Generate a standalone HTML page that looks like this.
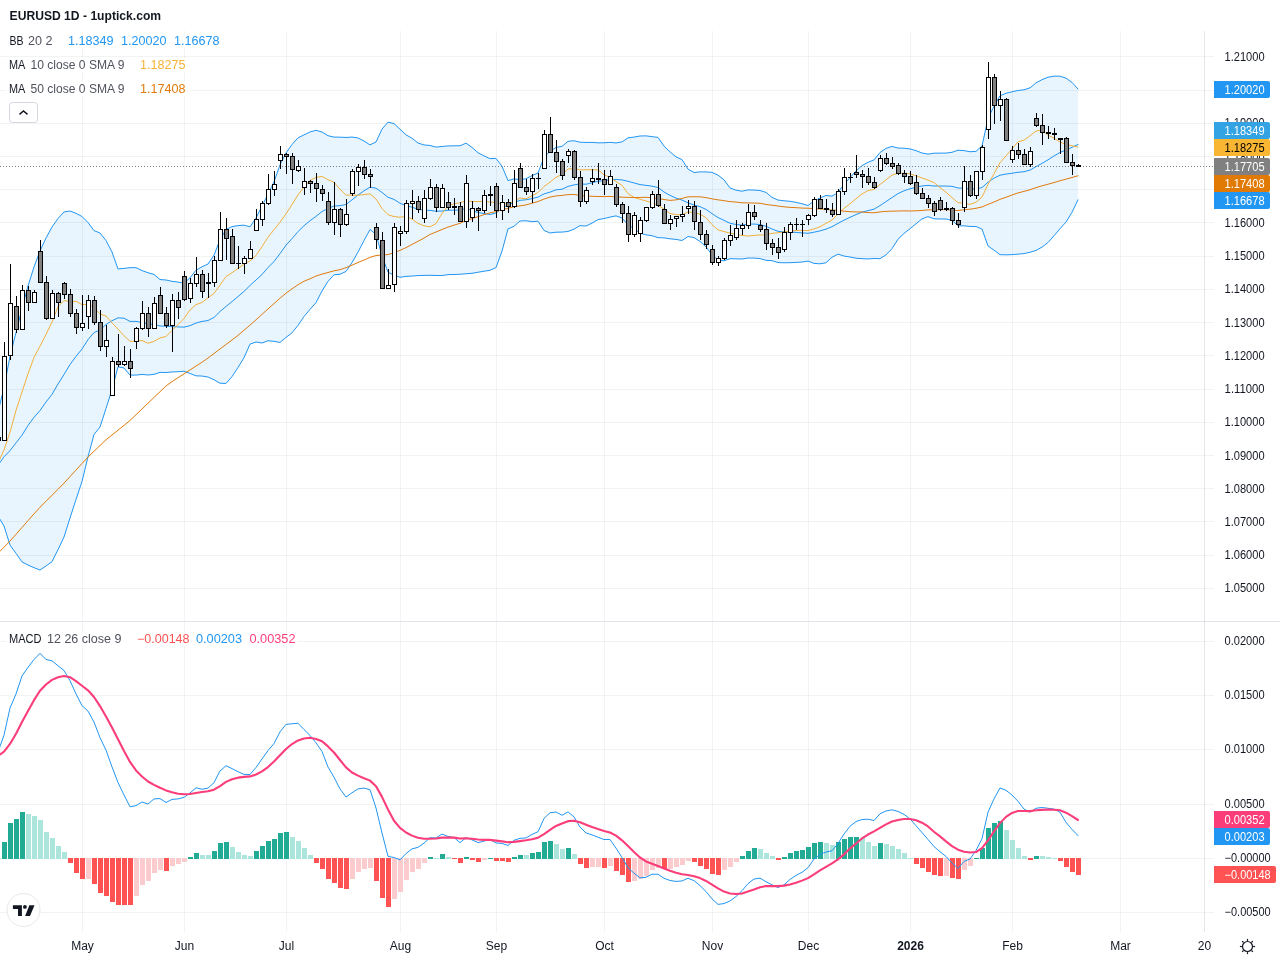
<!DOCTYPE html>
<html lang="en"><head><meta charset="utf-8"><title>EURUSD 1D - 1uptick.com</title>
<style>
html,body{margin:0;padding:0;background:#fff;}
body{width:1280px;height:960px;overflow:hidden;font-family:"Liberation Sans",sans-serif;}
svg{display:block;will-change:transform}
text{font-family:"Liberation Sans",sans-serif;font-size:12px;fill:#131722}
.g{stroke:#2a2e39;stroke-opacity:.06;stroke-width:1;shape-rendering:crispEdges}
.c{shape-rendering:crispEdges}
.ln{fill:none;stroke-linejoin:round;stroke-linecap:round}
</style></head><body>
<svg width="1280" height="960" viewBox="0 0 1280 960">
<rect width="1280" height="960" fill="#fff"/>

<g class="g">
<line x1="0" y1="588.5" x2="1214" y2="588.5"/>
<line x1="0" y1="555.5" x2="1214" y2="555.5"/>
<line x1="0" y1="521.5" x2="1214" y2="521.5"/>
<line x1="0" y1="488.5" x2="1214" y2="488.5"/>
<line x1="0" y1="455.5" x2="1214" y2="455.5"/>
<line x1="0" y1="422.5" x2="1214" y2="422.5"/>
<line x1="0" y1="389.5" x2="1214" y2="389.5"/>
<line x1="0" y1="355.5" x2="1214" y2="355.5"/>
<line x1="0" y1="322.5" x2="1214" y2="322.5"/>
<line x1="0" y1="289.5" x2="1214" y2="289.5"/>
<line x1="0" y1="256.5" x2="1214" y2="256.5"/>
<line x1="0" y1="222.5" x2="1214" y2="222.5"/>
<line x1="0" y1="189.5" x2="1214" y2="189.5"/>
<line x1="0" y1="156.5" x2="1214" y2="156.5"/>
<line x1="0" y1="123.5" x2="1214" y2="123.5"/>
<line x1="0" y1="90.5" x2="1214" y2="90.5"/>
<line x1="0" y1="56.5" x2="1214" y2="56.5"/>
<line x1="0" y1="641.5" x2="1214" y2="641.5"/>
<line x1="0" y1="695.5" x2="1214" y2="695.5"/>
<line x1="0" y1="749.5" x2="1214" y2="749.5"/>
<line x1="0" y1="804.5" x2="1214" y2="804.5"/>
<line x1="0" y1="858.5" x2="1214" y2="858.5"/>
<line x1="0" y1="912.5" x2="1214" y2="912.5"/>
<line x1="82.5" y1="31" x2="82.5" y2="932"/>
<line x1="184.5" y1="31" x2="184.5" y2="932"/>
<line x1="286.5" y1="31" x2="286.5" y2="932"/>
<line x1="400.5" y1="31" x2="400.5" y2="932"/>
<line x1="496.5" y1="31" x2="496.5" y2="932"/>
<line x1="604.5" y1="31" x2="604.5" y2="932"/>
<line x1="712.5" y1="31" x2="712.5" y2="932"/>
<line x1="808.5" y1="31" x2="808.5" y2="932"/>
<line x1="910.5" y1="31" x2="910.5" y2="932"/>
<line x1="1012.5" y1="31" x2="1012.5" y2="932"/>
<line x1="1120.5" y1="31" x2="1120.5" y2="932"/>
<line x1="1204.5" y1="31" x2="1204.5" y2="932"/>
</g>
<line x1="0" y1="621.5" x2="1280" y2="621.5" stroke="#e0e3eb" stroke-width="1" class="c"/>
<polygon points="-2.0,412 4.0,387.50 10.0,356.30 16.0,332.50 22.0,308.50 28.0,286.00 34.0,267.00 40.0,251.00 46.0,238.00 52.0,227.00 58.0,218.50 64.0,212.00 70.0,211.00 76.0,213.30 82.0,216.50 88.0,222.50 94.0,230.60 100.0,233.00 106.0,240.50 112.0,252.00 118.0,268.98 124.0,268.35 130.0,267.67 136.0,267.65 142.0,270.58 148.0,272.74 154.0,274.43 160.0,279.55 166.0,280.00 172.0,281.33 178.0,282.07 184.0,283.04 190.0,277.85 196.0,270.21 202.0,266.80 208.0,264.04 214.0,255.11 220.0,239.86 226.0,229.47 232.0,226.60 238.0,225.62 244.0,225.18 250.0,226.84 256.0,218.05 262.0,206.03 268.0,194.30 274.0,181.83 280.0,164.82 286.0,152.95 292.0,144.49 298.0,137.87 304.0,134.89 310.0,132.01 316.0,130.27 322.0,132.01 328.0,135.71 334.0,137.10 340.0,137.15 346.0,137.47 352.0,137.06 358.0,137.96 364.0,141.06 370.0,144.86 376.0,142.01 382.0,129.08 388.0,122.23 394.0,123.55 400.0,129.19 406.0,134.84 412.0,138.27 418.0,143.03 424.0,144.93 430.0,145.47 436.0,147.12 442.0,146.49 448.0,145.92 454.0,145.81 460.0,145.78 466.0,143.18 472.0,147.36 478.0,152.74 484.0,155.82 490.0,158.68 496.0,158.39 502.0,166.27 508.0,180.61 514.0,178.87 520.0,179.70 526.0,178.75 532.0,175.59 538.0,172.97 544.0,157.32 550.0,151.31 556.0,147.44 562.0,146.34 568.0,141.33 574.0,140.71 580.0,142.20 586.0,142.47 592.0,142.38 598.0,142.83 604.0,142.77 610.0,142.34 616.0,142.94 622.0,141.89 628.0,137.89 634.0,137.09 640.0,135.99 646.0,135.87 652.0,136.65 658.0,137.45 664.0,146.08 670.0,151.88 676.0,156.80 682.0,159.61 688.0,169.12 694.0,172.53 700.0,171.89 706.0,171.92 712.0,172.37 718.0,175.14 724.0,179.84 730.0,187.90 736.0,190.20 742.0,191.21 748.0,189.91 754.0,190.05 760.0,190.50 766.0,192.39 772.0,197.40 778.0,200.08 784.0,200.76 790.0,201.31 796.0,202.35 802.0,203.74 808.0,205.54 814.0,200.98 820.0,197.98 826.0,195.46 832.0,196.15 838.0,192.57 844.0,184.37 850.0,177.58 856.0,170.96 862.0,165.64 868.0,162.32 874.0,159.87 880.0,152.53 886.0,148.34 892.0,146.45 898.0,148.02 904.0,148.23 910.0,148.90 916.0,150.67 922.0,153.02 928.0,154.12 934.0,153.19 940.0,153.11 946.0,153.09 952.0,152.30 958.0,150.20 964.0,150.58 970.0,151.72 976.0,151.36 982.0,146.01 988.0,118.58 994.0,106.16 1000.0,95.74 1006.0,93.27 1012.0,91.84 1018.0,90.46 1024.0,89.79 1030.0,87.87 1036.0,82.94 1042.0,79.65 1048.0,77.22 1054.0,76.16 1060.0,76.16 1066.0,78.15 1072.0,82.42 1078.0,89.02 1078.0,199.85 1072.0,212.28 1066.0,222.02 1060.0,228.70 1054.0,235.76 1048.0,242.51 1042.0,247.11 1036.0,250.41 1030.0,252.28 1024.0,253.60 1018.0,254.15 1012.0,254.67 1006.0,254.85 1000.0,254.67 994.0,250.15 988.0,245.96 982.0,229.04 976.0,226.56 970.0,226.46 964.0,225.82 958.0,225.82 952.0,220.40 946.0,219.01 940.0,218.98 934.0,218.81 928.0,216.61 922.0,218.87 916.0,223.81 910.0,228.68 904.0,233.41 898.0,239.19 892.0,248.66 886.0,254.88 880.0,258.72 874.0,258.48 868.0,258.96 862.0,258.63 856.0,258.24 850.0,257.04 844.0,256.05 838.0,254.13 832.0,257.26 826.0,262.78 820.0,263.80 814.0,263.39 808.0,261.10 802.0,262.04 796.0,262.45 790.0,262.69 784.0,262.77 778.0,262.56 772.0,260.63 766.0,260.31 760.0,258.58 754.0,258.09 748.0,258.09 742.0,258.99 736.0,258.80 730.0,258.69 724.0,260.83 718.0,259.95 712.0,254.85 706.0,246.87 700.0,241.47 694.0,237.55 688.0,236.50 682.0,240.51 676.0,239.42 670.0,238.82 664.0,237.90 658.0,237.63 652.0,235.67 646.0,234.87 640.0,233.17 634.0,228.78 628.0,224.78 622.0,218.00 616.0,215.88 610.0,217.09 604.0,218.59 598.0,219.62 592.0,223.14 586.0,226.06 580.0,225.64 574.0,229.13 568.0,231.49 562.0,232.08 556.0,232.23 550.0,232.98 544.0,230.46 538.0,221.22 532.0,221.66 526.0,220.78 520.0,221.04 514.0,226.29 508.0,228.95 502.0,251.15 496.0,267.62 490.0,270.28 484.0,271.24 478.0,272.23 472.0,273.29 466.0,273.74 460.0,274.27 454.0,274.52 448.0,274.60 442.0,275.54 436.0,275.46 430.0,275.27 424.0,275.39 418.0,275.59 412.0,276.07 406.0,276.39 400.0,277.29 394.0,275.22 388.0,272.26 382.0,255.85 376.0,234.39 370.0,229.49 364.0,240.58 358.0,252.10 352.0,262.65 346.0,271.46 340.0,274.26 334.0,274.81 328.0,281.29 322.0,291.04 316.0,302.57 310.0,309.36 304.0,316.53 298.0,325.36 292.0,332.82 286.0,337.41 280.0,342.46 274.0,341.32 268.0,340.75 262.0,342.99 256.0,342.00 250.0,344.11 244.0,357.66 238.0,367.52 232.0,376.58 226.0,383.48 220.0,383.23 214.0,379.76 208.0,377.04 202.0,376.04 196.0,375.83 190.0,373.47 184.0,371.27 178.0,371.72 172.0,371.97 166.0,372.56 160.0,372.36 154.0,374.37 148.0,374.98 142.0,374.45 136.0,375.07 130.0,375.15 124.0,367.99 118.0,366.82 112.0,389.50 106.0,408.50 100.0,427.00 94.0,434.50 88.0,456.80 82.0,481.50 76.0,499.50 70.0,518.00 64.0,537.00 58.0,549.60 52.0,561.70 46.0,566.00 40.0,570.00 34.0,567.70 28.0,565.00 22.0,561.90 16.0,553.30 10.0,545.00 4.0,526.00 -2.0,516" fill="#2196f3" fill-opacity="0.1"/>
<polyline class="ln" points="-2.0,465.3 4.0,456.75 10.0,450.65 16.0,442.90 22.0,435.20 28.0,425.50 34.0,417.35 40.0,410.50 46.0,402.00 52.0,394.35 58.0,384.05 64.0,374.50 70.0,364.50 76.0,356.40 82.0,349.00 88.0,339.65 94.0,332.55 100.0,330.00 106.0,324.50 112.0,320.75 118.0,317.90 124.0,318.17 130.0,321.41 136.0,321.36 142.0,322.51 148.0,323.86 154.0,324.40 160.0,325.95 166.0,326.28 172.0,326.65 178.0,326.90 184.0,327.15 190.0,325.66 196.0,323.02 202.0,321.42 208.0,320.54 214.0,317.44 220.0,311.55 226.0,306.48 232.0,301.59 238.0,296.57 244.0,291.42 250.0,285.48 256.0,280.02 262.0,274.51 268.0,267.52 274.0,261.58 280.0,253.64 286.0,245.18 292.0,238.65 298.0,231.62 304.0,225.71 310.0,220.69 316.0,216.42 322.0,211.52 328.0,208.50 334.0,205.95 340.0,205.70 346.0,204.47 352.0,199.86 358.0,195.03 364.0,190.82 370.0,187.17 376.0,188.20 382.0,192.47 388.0,197.25 394.0,199.39 400.0,203.24 406.0,205.62 412.0,207.17 418.0,209.31 424.0,210.16 430.0,210.37 436.0,211.29 442.0,211.01 448.0,210.26 454.0,210.16 460.0,210.02 466.0,208.46 472.0,210.33 478.0,212.48 484.0,213.53 490.0,214.48 496.0,213.01 502.0,208.71 508.0,204.78 514.0,202.58 520.0,200.37 526.0,199.76 532.0,198.62 538.0,197.09 544.0,193.89 550.0,192.15 556.0,189.83 562.0,189.21 568.0,186.41 574.0,184.92 580.0,183.92 586.0,184.26 592.0,182.76 598.0,181.22 604.0,180.68 610.0,179.72 616.0,179.41 622.0,179.94 628.0,181.33 634.0,182.94 640.0,184.58 646.0,185.37 652.0,186.16 658.0,187.54 664.0,191.99 670.0,195.35 676.0,198.11 682.0,200.06 688.0,202.81 694.0,205.04 700.0,206.68 706.0,209.40 712.0,213.61 718.0,217.55 724.0,220.33 730.0,223.30 736.0,224.50 742.0,225.10 748.0,224.00 754.0,224.07 760.0,224.54 766.0,226.35 772.0,229.01 778.0,231.32 784.0,231.76 790.0,232.00 796.0,232.40 802.0,232.89 808.0,233.32 814.0,232.19 820.0,230.89 826.0,229.12 832.0,226.70 838.0,223.35 844.0,220.21 850.0,217.31 856.0,214.60 862.0,212.14 868.0,210.64 874.0,209.18 880.0,205.62 886.0,201.61 892.0,197.55 898.0,193.61 904.0,190.82 910.0,188.79 916.0,187.24 922.0,185.94 928.0,185.37 934.0,186.00 940.0,186.05 946.0,186.05 952.0,186.35 958.0,188.01 964.0,188.20 970.0,189.09 976.0,188.96 982.0,187.52 988.0,182.27 994.0,178.15 1000.0,175.21 1006.0,174.06 1012.0,173.26 1018.0,172.30 1024.0,171.69 1030.0,170.08 1036.0,166.68 1042.0,163.38 1048.0,159.87 1054.0,155.96 1060.0,152.43 1066.0,150.08 1072.0,147.35 1078.0,144.44" stroke="#2196f3" stroke-width="1"/>
<polyline class="ln" points="-2.0,412.0 4.0,387.50 10.0,356.30 16.0,332.50 22.0,308.50 28.0,286.00 34.0,267.00 40.0,251.00 46.0,238.00 52.0,227.00 58.0,218.50 64.0,212.00 70.0,211.00 76.0,213.30 82.0,216.50 88.0,222.50 94.0,230.60 100.0,233.00 106.0,240.50 112.0,252.00 118.0,268.98 124.0,268.35 130.0,267.67 136.0,267.65 142.0,270.58 148.0,272.74 154.0,274.43 160.0,279.55 166.0,280.00 172.0,281.33 178.0,282.07 184.0,283.04 190.0,277.85 196.0,270.21 202.0,266.80 208.0,264.04 214.0,255.11 220.0,239.86 226.0,229.47 232.0,226.60 238.0,225.62 244.0,225.18 250.0,226.84 256.0,218.05 262.0,206.03 268.0,194.30 274.0,181.83 280.0,164.82 286.0,152.95 292.0,144.49 298.0,137.87 304.0,134.89 310.0,132.01 316.0,130.27 322.0,132.01 328.0,135.71 334.0,137.10 340.0,137.15 346.0,137.47 352.0,137.06 358.0,137.96 364.0,141.06 370.0,144.86 376.0,142.01 382.0,129.08 388.0,122.23 394.0,123.55 400.0,129.19 406.0,134.84 412.0,138.27 418.0,143.03 424.0,144.93 430.0,145.47 436.0,147.12 442.0,146.49 448.0,145.92 454.0,145.81 460.0,145.78 466.0,143.18 472.0,147.36 478.0,152.74 484.0,155.82 490.0,158.68 496.0,158.39 502.0,166.27 508.0,180.61 514.0,178.87 520.0,179.70 526.0,178.75 532.0,175.59 538.0,172.97 544.0,157.32 550.0,151.31 556.0,147.44 562.0,146.34 568.0,141.33 574.0,140.71 580.0,142.20 586.0,142.47 592.0,142.38 598.0,142.83 604.0,142.77 610.0,142.34 616.0,142.94 622.0,141.89 628.0,137.89 634.0,137.09 640.0,135.99 646.0,135.87 652.0,136.65 658.0,137.45 664.0,146.08 670.0,151.88 676.0,156.80 682.0,159.61 688.0,169.12 694.0,172.53 700.0,171.89 706.0,171.92 712.0,172.37 718.0,175.14 724.0,179.84 730.0,187.90 736.0,190.20 742.0,191.21 748.0,189.91 754.0,190.05 760.0,190.50 766.0,192.39 772.0,197.40 778.0,200.08 784.0,200.76 790.0,201.31 796.0,202.35 802.0,203.74 808.0,205.54 814.0,200.98 820.0,197.98 826.0,195.46 832.0,196.15 838.0,192.57 844.0,184.37 850.0,177.58 856.0,170.96 862.0,165.64 868.0,162.32 874.0,159.87 880.0,152.53 886.0,148.34 892.0,146.45 898.0,148.02 904.0,148.23 910.0,148.90 916.0,150.67 922.0,153.02 928.0,154.12 934.0,153.19 940.0,153.11 946.0,153.09 952.0,152.30 958.0,150.20 964.0,150.58 970.0,151.72 976.0,151.36 982.0,146.01 988.0,118.58 994.0,106.16 1000.0,95.74 1006.0,93.27 1012.0,91.84 1018.0,90.46 1024.0,89.79 1030.0,87.87 1036.0,82.94 1042.0,79.65 1048.0,77.22 1054.0,76.16 1060.0,76.16 1066.0,78.15 1072.0,82.42 1078.0,89.02" stroke="#2196f3" stroke-width="1"/>
<polyline class="ln" points="-2.0,516.0 4.0,526.00 10.0,545.00 16.0,553.30 22.0,561.90 28.0,565.00 34.0,567.70 40.0,570.00 46.0,566.00 52.0,561.70 58.0,549.60 64.0,537.00 70.0,518.00 76.0,499.50 82.0,481.50 88.0,456.80 94.0,434.50 100.0,427.00 106.0,408.50 112.0,389.50 118.0,366.82 124.0,367.99 130.0,375.15 136.0,375.07 142.0,374.45 148.0,374.98 154.0,374.37 160.0,372.36 166.0,372.56 172.0,371.97 178.0,371.72 184.0,371.27 190.0,373.47 196.0,375.83 202.0,376.04 208.0,377.04 214.0,379.76 220.0,383.23 226.0,383.48 232.0,376.58 238.0,367.52 244.0,357.66 250.0,344.11 256.0,342.00 262.0,342.99 268.0,340.75 274.0,341.32 280.0,342.46 286.0,337.41 292.0,332.82 298.0,325.36 304.0,316.53 310.0,309.36 316.0,302.57 322.0,291.04 328.0,281.29 334.0,274.81 340.0,274.26 346.0,271.46 352.0,262.65 358.0,252.10 364.0,240.58 370.0,229.49 376.0,234.39 382.0,255.85 388.0,272.26 394.0,275.22 400.0,277.29 406.0,276.39 412.0,276.07 418.0,275.59 424.0,275.39 430.0,275.27 436.0,275.46 442.0,275.54 448.0,274.60 454.0,274.52 460.0,274.27 466.0,273.74 472.0,273.29 478.0,272.23 484.0,271.24 490.0,270.28 496.0,267.62 502.0,251.15 508.0,228.95 514.0,226.29 520.0,221.04 526.0,220.78 532.0,221.66 538.0,221.22 544.0,230.46 550.0,232.98 556.0,232.23 562.0,232.08 568.0,231.49 574.0,229.13 580.0,225.64 586.0,226.06 592.0,223.14 598.0,219.62 604.0,218.59 610.0,217.09 616.0,215.88 622.0,218.00 628.0,224.78 634.0,228.78 640.0,233.17 646.0,234.87 652.0,235.67 658.0,237.63 664.0,237.90 670.0,238.82 676.0,239.42 682.0,240.51 688.0,236.50 694.0,237.55 700.0,241.47 706.0,246.87 712.0,254.85 718.0,259.95 724.0,260.83 730.0,258.69 736.0,258.80 742.0,258.99 748.0,258.09 754.0,258.09 760.0,258.58 766.0,260.31 772.0,260.63 778.0,262.56 784.0,262.77 790.0,262.69 796.0,262.45 802.0,262.04 808.0,261.10 814.0,263.39 820.0,263.80 826.0,262.78 832.0,257.26 838.0,254.13 844.0,256.05 850.0,257.04 856.0,258.24 862.0,258.63 868.0,258.96 874.0,258.48 880.0,258.72 886.0,254.88 892.0,248.66 898.0,239.19 904.0,233.41 910.0,228.68 916.0,223.81 922.0,218.87 928.0,216.61 934.0,218.81 940.0,218.98 946.0,219.01 952.0,220.40 958.0,225.82 964.0,225.82 970.0,226.46 976.0,226.56 982.0,229.04 988.0,245.96 994.0,250.15 1000.0,254.67 1006.0,254.85 1012.0,254.67 1018.0,254.15 1024.0,253.60 1030.0,252.28 1036.0,250.41 1042.0,247.11 1048.0,242.51 1054.0,235.76 1060.0,228.70 1066.0,222.02 1072.0,212.28 1078.0,199.85" stroke="#2196f3" stroke-width="1"/>
<polyline class="ln" points="-2.0,463.0 4.0,450.00 10.0,432.20 16.0,410.50 22.0,392.00 28.0,373.80 34.0,357.50 40.0,346.20 46.0,334.40 52.0,322.00 58.0,306.71 64.0,300.54 70.0,301.52 76.0,301.30 82.0,304.60 88.0,304.43 94.0,307.43 100.0,313.91 106.0,316.10 112.0,322.88 118.0,329.08 124.0,335.80 130.0,341.30 136.0,341.41 142.0,340.43 148.0,343.29 154.0,341.38 160.0,337.99 166.0,336.46 172.0,330.41 178.0,324.71 184.0,318.51 190.0,310.02 196.0,304.63 202.0,302.41 208.0,297.79 214.0,293.49 220.0,285.10 226.0,276.49 232.0,272.77 238.0,268.43 244.0,264.33 250.0,260.93 256.0,255.41 262.0,246.60 268.0,237.26 274.0,229.66 280.0,222.18 286.0,213.87 292.0,204.54 298.0,194.80 304.0,187.08 310.0,180.44 316.0,177.43 322.0,176.44 328.0,179.74 334.0,182.24 340.0,189.22 346.0,195.07 352.0,195.18 358.0,195.26 364.0,194.55 370.0,193.90 376.0,198.97 382.0,208.49 388.0,214.76 394.0,216.54 400.0,217.26 406.0,216.16 412.0,219.16 418.0,223.37 424.0,225.77 430.0,226.85 436.0,223.60 442.0,213.54 448.0,205.77 454.0,203.79 460.0,202.79 466.0,200.76 472.0,201.49 478.0,201.60 484.0,201.29 490.0,202.12 496.0,202.41 502.0,203.88 508.0,203.79 514.0,201.37 520.0,197.96 526.0,198.77 532.0,195.76 538.0,192.58 544.0,186.49 550.0,182.18 556.0,177.26 562.0,174.54 568.0,169.04 574.0,168.47 580.0,169.88 586.0,169.76 592.0,169.77 598.0,169.87 604.0,174.87 610.0,177.26 616.0,181.57 622.0,185.35 628.0,193.63 634.0,197.40 640.0,199.27 646.0,200.99 652.0,202.55 658.0,205.21 664.0,209.12 670.0,213.44 676.0,214.65 682.0,214.77 688.0,211.99 694.0,212.68 700.0,214.08 706.0,217.80 712.0,224.66 718.0,229.88 724.0,231.55 730.0,233.15 736.0,234.35 742.0,235.43 748.0,236.01 754.0,235.46 760.0,234.99 766.0,234.90 772.0,233.37 778.0,232.76 784.0,231.97 790.0,230.85 796.0,230.44 802.0,230.35 808.0,230.63 814.0,228.91 820.0,226.79 826.0,223.35 832.0,220.04 838.0,213.94 844.0,208.44 850.0,203.77 856.0,198.76 862.0,193.93 868.0,190.65 874.0,189.44 880.0,184.46 886.0,179.87 892.0,175.07 898.0,173.27 904.0,173.19 910.0,173.80 916.0,175.72 922.0,177.96 928.0,180.08 934.0,182.55 940.0,187.63 946.0,192.24 952.0,197.63 958.0,202.74 964.0,203.21 970.0,204.38 976.0,202.19 982.0,197.08 988.0,184.45 994.0,173.76 1000.0,162.78 1006.0,155.88 1012.0,148.88 1018.0,141.87 1024.0,140.18 1030.0,135.77 1036.0,131.16 1042.0,129.68 1048.0,135.28 1054.0,138.16 1060.0,142.07 1066.0,144.29 1072.0,145.82 1078.0,147.01" stroke="#f2b13a" stroke-width="1"/>
<polyline class="ln" points="-2.0,553.2 4.0,547.20 10.0,541.05 16.0,534.25 22.0,527.45 28.0,520.65 34.0,513.85 40.0,507.25 46.0,501.27 52.0,495.28 58.0,489.29 64.0,483.12 70.0,476.59 76.0,470.05 82.0,463.52 88.0,457.01 94.0,451.26 100.0,445.51 106.0,439.80 112.0,435.00 118.0,430.21 124.0,425.41 130.0,420.48 136.0,414.73 142.0,408.97 148.0,403.21 154.0,397.45 160.0,391.70 166.0,385.94 172.0,381.60 178.0,377.72 184.0,373.85 190.0,369.98 196.0,366.09 202.0,362.21 208.0,358.01 214.0,353.49 220.0,348.97 226.0,344.48 232.0,339.99 238.0,335.34 244.0,330.22 250.0,325.11 256.0,319.79 262.0,314.37 268.0,308.95 274.0,303.58 280.0,298.21 286.0,293.24 292.0,288.76 298.0,284.75 304.0,281.25 310.0,278.84 316.0,276.04 322.0,274.10 328.0,272.50 334.0,270.84 340.0,269.68 346.0,267.60 352.0,265.16 358.0,262.46 364.0,260.06 370.0,257.32 376.0,255.57 382.0,254.88 388.0,254.57 394.0,252.66 400.0,250.35 406.0,247.61 412.0,244.41 418.0,241.31 424.0,238.05 430.0,234.43 436.0,232.01 442.0,229.50 448.0,227.06 454.0,225.14 460.0,223.31 466.0,220.47 472.0,218.63 478.0,216.69 484.0,214.61 490.0,212.85 496.0,211.57 502.0,209.79 508.0,208.26 514.0,206.72 520.0,205.88 526.0,204.92 532.0,203.22 538.0,201.52 544.0,199.04 550.0,197.10 556.0,195.93 562.0,195.38 568.0,194.62 574.0,194.48 580.0,195.42 586.0,196.10 592.0,196.27 598.0,196.53 604.0,196.59 610.0,196.46 616.0,196.76 622.0,197.16 628.0,197.40 634.0,197.51 640.0,197.43 646.0,197.29 652.0,197.75 658.0,198.53 664.0,199.51 670.0,200.37 676.0,199.90 682.0,198.42 688.0,196.84 694.0,196.74 700.0,196.80 706.0,197.62 712.0,198.85 718.0,199.83 724.0,200.66 730.0,201.63 736.0,202.05 742.0,202.79 748.0,202.89 754.0,203.07 760.0,203.24 766.0,204.44 772.0,205.22 778.0,206.06 784.0,206.80 790.0,207.38 796.0,207.65 802.0,208.09 808.0,208.26 814.0,208.58 820.0,209.00 826.0,209.36 832.0,210.08 838.0,210.33 844.0,211.19 850.0,211.69 856.0,211.95 862.0,211.97 868.0,212.58 874.0,212.78 880.0,211.92 886.0,211.38 892.0,211.14 898.0,211.01 904.0,210.86 910.0,211.00 916.0,210.78 922.0,210.49 928.0,209.87 934.0,209.81 940.0,209.59 946.0,209.63 952.0,210.15 958.0,210.52 964.0,209.67 970.0,209.19 976.0,208.29 982.0,206.95 988.0,204.36 994.0,202.03 1000.0,199.33 1006.0,197.25 1012.0,195.00 1018.0,192.92 1024.0,191.40 1030.0,189.72 1036.0,187.66 1042.0,185.80 1048.0,184.22 1054.0,182.57 1060.0,180.75 1066.0,179.12 1072.0,177.49 1078.0,175.77" stroke="#e07b0c" stroke-width="1"/>
<line x1="0" y1="166.5" x2="1214" y2="166.5" stroke="#7d7d7d" stroke-width="1" stroke-dasharray="1 2" class="c"/>
<g class="c">
<rect x="0" y="437" width="1" height="4" fill="#000"/>
<rect x="4" y="342" width="1" height="99" fill="#000"/>
<rect x="2" y="356" width="5" height="85" fill="#000"/>
<rect x="3" y="357" width="3" height="83" fill="#fff"/>
<rect x="10" y="264" width="1" height="96" fill="#000"/>
<rect x="8" y="303" width="5" height="53" fill="#000"/>
<rect x="9" y="304" width="3" height="51" fill="#fff"/>
<rect x="16" y="296" width="1" height="37" fill="#000"/>
<rect x="14" y="306" width="5" height="24" fill="#000"/>
<rect x="15" y="307" width="3" height="22" fill="#808080"/>
<rect x="22" y="285" width="1" height="45" fill="#000"/>
<rect x="20" y="290" width="5" height="40" fill="#000"/>
<rect x="21" y="291" width="3" height="38" fill="#fff"/>
<rect x="28" y="286" width="1" height="25" fill="#000"/>
<rect x="26" y="290" width="5" height="13" fill="#000"/>
<rect x="27" y="291" width="3" height="11" fill="#808080"/>
<rect x="34" y="290" width="1" height="13" fill="#000"/>
<rect x="32" y="292" width="5" height="11" fill="#000"/>
<rect x="33" y="293" width="3" height="9" fill="#fff"/>
<rect x="40" y="240" width="1" height="43" fill="#000"/>
<rect x="38" y="251" width="5" height="32" fill="#000"/>
<rect x="39" y="252" width="3" height="30" fill="#808080"/>
<rect x="46" y="276" width="1" height="44" fill="#000"/>
<rect x="44" y="282" width="5" height="37" fill="#000"/>
<rect x="45" y="283" width="3" height="35" fill="#808080"/>
<rect x="52" y="290" width="1" height="29" fill="#000"/>
<rect x="50" y="293" width="5" height="26" fill="#000"/>
<rect x="51" y="294" width="3" height="24" fill="#fff"/>
<rect x="58" y="292" width="1" height="25" fill="#000"/>
<rect x="56" y="293" width="5" height="10" fill="#000"/>
<rect x="57" y="294" width="3" height="8" fill="#808080"/>
<rect x="64" y="282" width="1" height="17" fill="#000"/>
<rect x="62" y="283" width="5" height="12" fill="#000"/>
<rect x="63" y="284" width="3" height="10" fill="#808080"/>
<rect x="70" y="289" width="1" height="28" fill="#000"/>
<rect x="68" y="294" width="5" height="20" fill="#000"/>
<rect x="69" y="295" width="3" height="18" fill="#808080"/>
<rect x="76" y="309" width="1" height="25" fill="#000"/>
<rect x="74" y="313" width="5" height="15" fill="#000"/>
<rect x="75" y="314" width="3" height="13" fill="#808080"/>
<rect x="82" y="295" width="1" height="36" fill="#000"/>
<rect x="80" y="323" width="5" height="5" fill="#000"/>
<rect x="81" y="324" width="3" height="3" fill="#fff"/>
<rect x="88" y="295" width="1" height="34" fill="#000"/>
<rect x="86" y="300" width="5" height="17" fill="#000"/>
<rect x="87" y="301" width="3" height="15" fill="#fff"/>
<rect x="94" y="296" width="1" height="29" fill="#000"/>
<rect x="92" y="300" width="5" height="23" fill="#000"/>
<rect x="93" y="301" width="3" height="21" fill="#808080"/>
<rect x="100" y="310" width="1" height="41" fill="#000"/>
<rect x="98" y="322" width="5" height="25" fill="#000"/>
<rect x="99" y="323" width="3" height="23" fill="#808080"/>
<rect x="106" y="325" width="1" height="32" fill="#000"/>
<rect x="104" y="340" width="5" height="7" fill="#000"/>
<rect x="105" y="341" width="3" height="5" fill="#fff"/>
<rect x="112" y="357" width="1" height="39" fill="#000"/>
<rect x="110" y="361" width="5" height="35" fill="#000"/>
<rect x="111" y="362" width="3" height="33" fill="#fff"/>
<rect x="118" y="334" width="1" height="33" fill="#000"/>
<rect x="116" y="361" width="5" height="4" fill="#000"/>
<rect x="117" y="362" width="3" height="2" fill="#808080"/>
<rect x="124" y="346" width="1" height="20" fill="#000"/>
<rect x="122" y="361" width="5" height="4" fill="#000"/>
<rect x="123" y="362" width="3" height="2" fill="#fff"/>
<rect x="130" y="349" width="1" height="29" fill="#000"/>
<rect x="128" y="361" width="5" height="8" fill="#000"/>
<rect x="129" y="362" width="3" height="6" fill="#808080"/>
<rect x="136" y="327" width="1" height="22" fill="#000"/>
<rect x="134" y="328" width="5" height="14" fill="#000"/>
<rect x="135" y="329" width="3" height="12" fill="#fff"/>
<rect x="142" y="301" width="1" height="29" fill="#000"/>
<rect x="140" y="313" width="5" height="16" fill="#000"/>
<rect x="141" y="314" width="3" height="14" fill="#fff"/>
<rect x="148" y="307" width="1" height="30" fill="#000"/>
<rect x="146" y="313" width="5" height="16" fill="#000"/>
<rect x="147" y="314" width="3" height="14" fill="#808080"/>
<rect x="154" y="297" width="1" height="32" fill="#000"/>
<rect x="152" y="303" width="5" height="26" fill="#000"/>
<rect x="153" y="304" width="3" height="24" fill="#fff"/>
<rect x="160" y="287" width="1" height="27" fill="#000"/>
<rect x="158" y="295" width="5" height="19" fill="#000"/>
<rect x="159" y="296" width="3" height="17" fill="#808080"/>
<rect x="166" y="307" width="1" height="21" fill="#000"/>
<rect x="164" y="313" width="5" height="13" fill="#000"/>
<rect x="165" y="314" width="3" height="11" fill="#808080"/>
<rect x="172" y="294" width="1" height="58" fill="#000"/>
<rect x="170" y="300" width="5" height="26" fill="#000"/>
<rect x="171" y="301" width="3" height="24" fill="#fff"/>
<rect x="178" y="292" width="1" height="27" fill="#000"/>
<rect x="176" y="300" width="5" height="8" fill="#000"/>
<rect x="177" y="301" width="3" height="6" fill="#808080"/>
<rect x="184" y="271" width="1" height="30" fill="#000"/>
<rect x="182" y="276" width="5" height="24" fill="#000"/>
<rect x="183" y="277" width="3" height="22" fill="#808080"/>
<rect x="190" y="278" width="1" height="25" fill="#000"/>
<rect x="188" y="283" width="5" height="16" fill="#000"/>
<rect x="189" y="284" width="3" height="14" fill="#fff"/>
<rect x="196" y="257" width="1" height="30" fill="#000"/>
<rect x="194" y="274" width="5" height="10" fill="#000"/>
<rect x="195" y="275" width="3" height="8" fill="#fff"/>
<rect x="202" y="270" width="1" height="28" fill="#000"/>
<rect x="200" y="274" width="5" height="18" fill="#000"/>
<rect x="201" y="275" width="3" height="16" fill="#808080"/>
<rect x="208" y="273" width="1" height="25" fill="#000"/>
<rect x="206" y="282" width="5" height="2" fill="#000"/>
<rect x="214" y="256" width="1" height="31" fill="#000"/>
<rect x="212" y="260" width="5" height="23" fill="#000"/>
<rect x="213" y="261" width="3" height="21" fill="#fff"/>
<rect x="220" y="212" width="1" height="49" fill="#000"/>
<rect x="218" y="229" width="5" height="32" fill="#000"/>
<rect x="219" y="230" width="3" height="30" fill="#fff"/>
<rect x="226" y="218" width="1" height="42" fill="#000"/>
<rect x="224" y="229" width="5" height="10" fill="#000"/>
<rect x="225" y="230" width="3" height="8" fill="#808080"/>
<rect x="232" y="229" width="1" height="35" fill="#000"/>
<rect x="230" y="236" width="5" height="28" fill="#000"/>
<rect x="231" y="237" width="3" height="26" fill="#808080"/>
<rect x="238" y="246" width="1" height="23" fill="#000"/>
<rect x="236" y="263" width="5" height="1" fill="#000"/>
<rect x="244" y="256" width="1" height="18" fill="#000"/>
<rect x="242" y="258" width="5" height="6" fill="#000"/>
<rect x="243" y="259" width="3" height="4" fill="#fff"/>
<rect x="250" y="241" width="1" height="18" fill="#000"/>
<rect x="248" y="249" width="5" height="10" fill="#000"/>
<rect x="249" y="250" width="3" height="8" fill="#fff"/>
<rect x="256" y="209" width="1" height="22" fill="#000"/>
<rect x="254" y="219" width="5" height="12" fill="#000"/>
<rect x="255" y="220" width="3" height="10" fill="#fff"/>
<rect x="262" y="201" width="1" height="25" fill="#000"/>
<rect x="260" y="203" width="5" height="17" fill="#000"/>
<rect x="261" y="204" width="3" height="15" fill="#fff"/>
<rect x="268" y="174" width="1" height="31" fill="#000"/>
<rect x="266" y="189" width="5" height="15" fill="#000"/>
<rect x="267" y="190" width="3" height="13" fill="#fff"/>
<rect x="274" y="171" width="1" height="25" fill="#000"/>
<rect x="272" y="184" width="5" height="6" fill="#000"/>
<rect x="273" y="185" width="3" height="4" fill="#fff"/>
<rect x="280" y="146" width="1" height="23" fill="#000"/>
<rect x="278" y="154" width="5" height="7" fill="#000"/>
<rect x="279" y="155" width="3" height="5" fill="#fff"/>
<rect x="286" y="153" width="1" height="21" fill="#000"/>
<rect x="284" y="154" width="5" height="3" fill="#000"/>
<rect x="285" y="155" width="3" height="1" fill="#808080"/>
<rect x="292" y="153" width="1" height="31" fill="#000"/>
<rect x="290" y="156" width="5" height="14" fill="#000"/>
<rect x="291" y="157" width="3" height="12" fill="#808080"/>
<rect x="298" y="160" width="1" height="12" fill="#000"/>
<rect x="296" y="166" width="5" height="5" fill="#000"/>
<rect x="297" y="167" width="3" height="3" fill="#fff"/>
<rect x="304" y="168" width="1" height="27" fill="#000"/>
<rect x="302" y="181" width="5" height="7" fill="#000"/>
<rect x="303" y="182" width="3" height="5" fill="#fff"/>
<rect x="310" y="180" width="1" height="13" fill="#000"/>
<rect x="308" y="181" width="5" height="3" fill="#000"/>
<rect x="309" y="182" width="3" height="1" fill="#808080"/>
<rect x="316" y="173" width="1" height="29" fill="#000"/>
<rect x="314" y="183" width="5" height="6" fill="#000"/>
<rect x="315" y="184" width="3" height="4" fill="#808080"/>
<rect x="322" y="185" width="1" height="16" fill="#000"/>
<rect x="320" y="189" width="5" height="5" fill="#000"/>
<rect x="321" y="190" width="3" height="3" fill="#808080"/>
<rect x="328" y="192" width="1" height="33" fill="#000"/>
<rect x="326" y="201" width="5" height="22" fill="#000"/>
<rect x="327" y="202" width="3" height="20" fill="#808080"/>
<rect x="334" y="182" width="1" height="53" fill="#000"/>
<rect x="332" y="209" width="5" height="14" fill="#000"/>
<rect x="333" y="210" width="3" height="12" fill="#fff"/>
<rect x="340" y="208" width="1" height="29" fill="#000"/>
<rect x="338" y="209" width="5" height="16" fill="#000"/>
<rect x="339" y="210" width="3" height="14" fill="#808080"/>
<rect x="346" y="199" width="1" height="27" fill="#000"/>
<rect x="344" y="214" width="5" height="11" fill="#000"/>
<rect x="345" y="215" width="3" height="9" fill="#fff"/>
<rect x="352" y="169" width="1" height="27" fill="#000"/>
<rect x="350" y="171" width="5" height="23" fill="#000"/>
<rect x="351" y="172" width="3" height="21" fill="#fff"/>
<rect x="358" y="164" width="1" height="22" fill="#000"/>
<rect x="356" y="167" width="5" height="5" fill="#000"/>
<rect x="357" y="168" width="3" height="3" fill="#fff"/>
<rect x="364" y="160" width="1" height="19" fill="#000"/>
<rect x="362" y="167" width="5" height="8" fill="#000"/>
<rect x="363" y="168" width="3" height="6" fill="#808080"/>
<rect x="370" y="169" width="1" height="19" fill="#000"/>
<rect x="368" y="174" width="5" height="3" fill="#000"/>
<rect x="369" y="175" width="3" height="1" fill="#808080"/>
<rect x="376" y="223" width="1" height="26" fill="#000"/>
<rect x="374" y="227" width="5" height="13" fill="#000"/>
<rect x="375" y="228" width="3" height="11" fill="#808080"/>
<rect x="382" y="232" width="1" height="57" fill="#000"/>
<rect x="380" y="240" width="5" height="49" fill="#000"/>
<rect x="381" y="241" width="3" height="47" fill="#808080"/>
<rect x="388" y="269" width="1" height="20" fill="#000"/>
<rect x="386" y="285" width="5" height="4" fill="#000"/>
<rect x="387" y="286" width="3" height="2" fill="#fff"/>
<rect x="394" y="223" width="1" height="69" fill="#000"/>
<rect x="392" y="227" width="5" height="58" fill="#000"/>
<rect x="393" y="228" width="3" height="56" fill="#fff"/>
<rect x="400" y="226" width="1" height="20" fill="#000"/>
<rect x="398" y="231" width="5" height="3" fill="#000"/>
<rect x="399" y="232" width="3" height="1" fill="#fff"/>
<rect x="406" y="200" width="1" height="34" fill="#000"/>
<rect x="404" y="203" width="5" height="29" fill="#000"/>
<rect x="405" y="204" width="3" height="27" fill="#fff"/>
<rect x="412" y="190" width="1" height="29" fill="#000"/>
<rect x="410" y="201" width="5" height="3" fill="#000"/>
<rect x="411" y="202" width="3" height="1" fill="#fff"/>
<rect x="418" y="196" width="1" height="17" fill="#000"/>
<rect x="416" y="201" width="5" height="9" fill="#000"/>
<rect x="417" y="202" width="3" height="7" fill="#808080"/>
<rect x="424" y="190" width="1" height="33" fill="#000"/>
<rect x="422" y="198" width="5" height="21" fill="#000"/>
<rect x="423" y="199" width="3" height="19" fill="#fff"/>
<rect x="430" y="179" width="1" height="21" fill="#000"/>
<rect x="428" y="187" width="5" height="12" fill="#000"/>
<rect x="429" y="188" width="3" height="10" fill="#fff"/>
<rect x="436" y="184" width="1" height="28" fill="#000"/>
<rect x="434" y="187" width="5" height="21" fill="#000"/>
<rect x="435" y="188" width="3" height="19" fill="#808080"/>
<rect x="442" y="184" width="1" height="24" fill="#000"/>
<rect x="440" y="188" width="5" height="20" fill="#000"/>
<rect x="441" y="189" width="3" height="18" fill="#fff"/>
<rect x="448" y="192" width="1" height="18" fill="#000"/>
<rect x="446" y="202" width="5" height="6" fill="#000"/>
<rect x="447" y="203" width="3" height="4" fill="#808080"/>
<rect x="454" y="198" width="1" height="17" fill="#000"/>
<rect x="452" y="206" width="5" height="2" fill="#000"/>
<rect x="460" y="202" width="1" height="20" fill="#000"/>
<rect x="458" y="206" width="5" height="16" fill="#000"/>
<rect x="459" y="207" width="3" height="14" fill="#808080"/>
<rect x="466" y="175" width="1" height="53" fill="#000"/>
<rect x="464" y="183" width="5" height="39" fill="#000"/>
<rect x="465" y="184" width="3" height="37" fill="#fff"/>
<rect x="472" y="201" width="1" height="21" fill="#000"/>
<rect x="470" y="208" width="5" height="10" fill="#000"/>
<rect x="471" y="209" width="3" height="8" fill="#fff"/>
<rect x="478" y="207" width="1" height="24" fill="#000"/>
<rect x="476" y="208" width="5" height="3" fill="#000"/>
<rect x="477" y="209" width="3" height="1" fill="#808080"/>
<rect x="484" y="190" width="1" height="23" fill="#000"/>
<rect x="482" y="195" width="5" height="16" fill="#000"/>
<rect x="483" y="196" width="3" height="14" fill="#fff"/>
<rect x="490" y="186" width="1" height="20" fill="#000"/>
<rect x="488" y="194" width="5" height="2" fill="#000"/>
<rect x="496" y="183" width="1" height="35" fill="#000"/>
<rect x="494" y="186" width="5" height="25" fill="#000"/>
<rect x="495" y="187" width="3" height="23" fill="#808080"/>
<rect x="502" y="195" width="1" height="25" fill="#000"/>
<rect x="500" y="202" width="5" height="9" fill="#000"/>
<rect x="501" y="203" width="3" height="7" fill="#fff"/>
<rect x="508" y="199" width="1" height="14" fill="#000"/>
<rect x="506" y="202" width="5" height="5" fill="#000"/>
<rect x="507" y="203" width="3" height="3" fill="#808080"/>
<rect x="514" y="170" width="1" height="38" fill="#000"/>
<rect x="512" y="183" width="5" height="24" fill="#000"/>
<rect x="513" y="184" width="3" height="22" fill="#fff"/>
<rect x="520" y="163" width="1" height="25" fill="#000"/>
<rect x="518" y="168" width="5" height="20" fill="#000"/>
<rect x="519" y="169" width="3" height="18" fill="#808080"/>
<rect x="526" y="179" width="1" height="16" fill="#000"/>
<rect x="524" y="187" width="5" height="5" fill="#000"/>
<rect x="525" y="188" width="3" height="3" fill="#808080"/>
<rect x="532" y="174" width="1" height="29" fill="#000"/>
<rect x="530" y="178" width="5" height="14" fill="#000"/>
<rect x="531" y="179" width="3" height="12" fill="#fff"/>
<rect x="538" y="173" width="1" height="16" fill="#000"/>
<rect x="536" y="178" width="5" height="1" fill="#000"/>
<rect x="544" y="130" width="1" height="39" fill="#000"/>
<rect x="542" y="134" width="5" height="35" fill="#000"/>
<rect x="543" y="135" width="3" height="33" fill="#fff"/>
<rect x="550" y="117" width="1" height="36" fill="#000"/>
<rect x="548" y="134" width="5" height="19" fill="#000"/>
<rect x="549" y="135" width="3" height="17" fill="#808080"/>
<rect x="556" y="140" width="1" height="33" fill="#000"/>
<rect x="554" y="152" width="5" height="10" fill="#000"/>
<rect x="555" y="153" width="3" height="8" fill="#808080"/>
<rect x="562" y="159" width="1" height="21" fill="#000"/>
<rect x="560" y="161" width="5" height="15" fill="#000"/>
<rect x="561" y="162" width="3" height="13" fill="#808080"/>
<rect x="568" y="149" width="1" height="14" fill="#000"/>
<rect x="566" y="151" width="5" height="5" fill="#000"/>
<rect x="567" y="152" width="3" height="3" fill="#fff"/>
<rect x="574" y="150" width="1" height="30" fill="#000"/>
<rect x="572" y="151" width="5" height="27" fill="#000"/>
<rect x="573" y="152" width="3" height="25" fill="#808080"/>
<rect x="580" y="171" width="1" height="36" fill="#000"/>
<rect x="578" y="177" width="5" height="25" fill="#000"/>
<rect x="579" y="178" width="3" height="23" fill="#808080"/>
<rect x="586" y="187" width="1" height="17" fill="#000"/>
<rect x="584" y="190" width="5" height="12" fill="#000"/>
<rect x="585" y="191" width="3" height="10" fill="#fff"/>
<rect x="592" y="169" width="1" height="16" fill="#000"/>
<rect x="590" y="178" width="5" height="4" fill="#000"/>
<rect x="591" y="179" width="3" height="2" fill="#fff"/>
<rect x="598" y="163" width="1" height="21" fill="#000"/>
<rect x="596" y="178" width="5" height="2" fill="#000"/>
<rect x="604" y="170" width="1" height="25" fill="#000"/>
<rect x="602" y="179" width="5" height="6" fill="#000"/>
<rect x="603" y="180" width="3" height="4" fill="#808080"/>
<rect x="610" y="170" width="1" height="15" fill="#000"/>
<rect x="608" y="176" width="5" height="9" fill="#000"/>
<rect x="609" y="177" width="3" height="7" fill="#fff"/>
<rect x="616" y="184" width="1" height="23" fill="#000"/>
<rect x="614" y="187" width="5" height="18" fill="#000"/>
<rect x="615" y="188" width="3" height="16" fill="#808080"/>
<rect x="622" y="202" width="1" height="21" fill="#000"/>
<rect x="620" y="204" width="5" height="10" fill="#000"/>
<rect x="621" y="205" width="3" height="8" fill="#808080"/>
<rect x="628" y="206" width="1" height="36" fill="#000"/>
<rect x="626" y="213" width="5" height="22" fill="#000"/>
<rect x="627" y="214" width="3" height="20" fill="#808080"/>
<rect x="634" y="212" width="1" height="25" fill="#000"/>
<rect x="632" y="215" width="5" height="20" fill="#000"/>
<rect x="633" y="216" width="3" height="18" fill="#fff"/>
<rect x="640" y="217" width="1" height="25" fill="#000"/>
<rect x="638" y="220" width="5" height="14" fill="#000"/>
<rect x="639" y="221" width="3" height="12" fill="#fff"/>
<rect x="646" y="207" width="1" height="15" fill="#000"/>
<rect x="644" y="207" width="5" height="14" fill="#000"/>
<rect x="645" y="208" width="3" height="12" fill="#fff"/>
<rect x="652" y="191" width="1" height="18" fill="#000"/>
<rect x="650" y="194" width="5" height="14" fill="#000"/>
<rect x="651" y="195" width="3" height="12" fill="#fff"/>
<rect x="658" y="180" width="1" height="27" fill="#000"/>
<rect x="656" y="194" width="5" height="12" fill="#000"/>
<rect x="657" y="195" width="3" height="10" fill="#808080"/>
<rect x="664" y="204" width="1" height="20" fill="#000"/>
<rect x="662" y="209" width="5" height="15" fill="#000"/>
<rect x="663" y="210" width="3" height="13" fill="#808080"/>
<rect x="670" y="215" width="1" height="15" fill="#000"/>
<rect x="668" y="219" width="5" height="5" fill="#000"/>
<rect x="669" y="220" width="3" height="3" fill="#fff"/>
<rect x="676" y="216" width="1" height="11" fill="#000"/>
<rect x="674" y="216" width="5" height="3" fill="#000"/>
<rect x="675" y="217" width="3" height="1" fill="#fff"/>
<rect x="682" y="206" width="1" height="16" fill="#000"/>
<rect x="680" y="214" width="5" height="3" fill="#000"/>
<rect x="681" y="215" width="3" height="1" fill="#fff"/>
<rect x="688" y="200" width="1" height="14" fill="#000"/>
<rect x="686" y="206" width="5" height="3" fill="#000"/>
<rect x="687" y="207" width="3" height="1" fill="#fff"/>
<rect x="694" y="201" width="1" height="29" fill="#000"/>
<rect x="692" y="206" width="5" height="16" fill="#000"/>
<rect x="693" y="207" width="3" height="14" fill="#808080"/>
<rect x="700" y="210" width="1" height="30" fill="#000"/>
<rect x="698" y="222" width="5" height="13" fill="#000"/>
<rect x="699" y="223" width="3" height="11" fill="#808080"/>
<rect x="706" y="230" width="1" height="19" fill="#000"/>
<rect x="704" y="234" width="5" height="11" fill="#000"/>
<rect x="705" y="235" width="3" height="9" fill="#808080"/>
<rect x="712" y="245" width="1" height="20" fill="#000"/>
<rect x="710" y="249" width="5" height="14" fill="#000"/>
<rect x="711" y="250" width="3" height="12" fill="#808080"/>
<rect x="718" y="256" width="1" height="10" fill="#000"/>
<rect x="716" y="258" width="5" height="5" fill="#000"/>
<rect x="717" y="259" width="3" height="3" fill="#fff"/>
<rect x="724" y="238" width="1" height="22" fill="#000"/>
<rect x="722" y="240" width="5" height="19" fill="#000"/>
<rect x="723" y="241" width="3" height="17" fill="#fff"/>
<rect x="730" y="225" width="1" height="21" fill="#000"/>
<rect x="728" y="235" width="5" height="6" fill="#000"/>
<rect x="729" y="236" width="3" height="4" fill="#fff"/>
<rect x="736" y="220" width="1" height="20" fill="#000"/>
<rect x="734" y="228" width="5" height="10" fill="#000"/>
<rect x="735" y="229" width="3" height="8" fill="#fff"/>
<rect x="742" y="223" width="1" height="12" fill="#000"/>
<rect x="740" y="225" width="5" height="4" fill="#000"/>
<rect x="741" y="226" width="3" height="2" fill="#fff"/>
<rect x="748" y="204" width="1" height="25" fill="#000"/>
<rect x="746" y="212" width="5" height="14" fill="#000"/>
<rect x="747" y="213" width="3" height="12" fill="#fff"/>
<rect x="754" y="205" width="1" height="15" fill="#000"/>
<rect x="752" y="212" width="5" height="5" fill="#000"/>
<rect x="753" y="213" width="3" height="3" fill="#808080"/>
<rect x="760" y="220" width="1" height="12" fill="#000"/>
<rect x="758" y="225" width="5" height="5" fill="#000"/>
<rect x="759" y="226" width="3" height="3" fill="#808080"/>
<rect x="766" y="223" width="1" height="27" fill="#000"/>
<rect x="764" y="229" width="5" height="15" fill="#000"/>
<rect x="765" y="230" width="3" height="13" fill="#808080"/>
<rect x="772" y="239" width="1" height="16" fill="#000"/>
<rect x="770" y="243" width="5" height="5" fill="#000"/>
<rect x="771" y="244" width="3" height="3" fill="#808080"/>
<rect x="778" y="238" width="1" height="21" fill="#000"/>
<rect x="776" y="247" width="5" height="6" fill="#000"/>
<rect x="777" y="248" width="3" height="4" fill="#808080"/>
<rect x="784" y="227" width="1" height="25" fill="#000"/>
<rect x="782" y="232" width="5" height="18" fill="#000"/>
<rect x="783" y="233" width="3" height="16" fill="#fff"/>
<rect x="790" y="222" width="1" height="18" fill="#000"/>
<rect x="788" y="224" width="5" height="9" fill="#000"/>
<rect x="789" y="225" width="3" height="7" fill="#fff"/>
<rect x="796" y="218" width="1" height="12" fill="#000"/>
<rect x="794" y="224" width="5" height="1" fill="#000"/>
<rect x="802" y="220" width="1" height="17" fill="#000"/>
<rect x="800" y="224" width="5" height="1" fill="#000"/>
<rect x="808" y="214" width="1" height="11" fill="#000"/>
<rect x="806" y="215" width="5" height="5" fill="#000"/>
<rect x="807" y="216" width="3" height="3" fill="#fff"/>
<rect x="814" y="197" width="1" height="20" fill="#000"/>
<rect x="812" y="199" width="5" height="17" fill="#000"/>
<rect x="813" y="200" width="3" height="15" fill="#fff"/>
<rect x="820" y="195" width="1" height="14" fill="#000"/>
<rect x="818" y="199" width="5" height="10" fill="#000"/>
<rect x="819" y="200" width="3" height="8" fill="#808080"/>
<rect x="826" y="199" width="1" height="14" fill="#000"/>
<rect x="824" y="208" width="5" height="2" fill="#000"/>
<rect x="832" y="203" width="1" height="14" fill="#000"/>
<rect x="830" y="210" width="5" height="5" fill="#000"/>
<rect x="831" y="211" width="3" height="3" fill="#808080"/>
<rect x="838" y="189" width="1" height="26" fill="#000"/>
<rect x="836" y="191" width="5" height="24" fill="#000"/>
<rect x="837" y="192" width="3" height="22" fill="#fff"/>
<rect x="844" y="168" width="1" height="27" fill="#000"/>
<rect x="842" y="177" width="5" height="15" fill="#000"/>
<rect x="843" y="178" width="3" height="13" fill="#fff"/>
<rect x="850" y="173" width="1" height="10" fill="#000"/>
<rect x="848" y="177" width="5" height="1" fill="#000"/>
<rect x="856" y="155" width="1" height="23" fill="#000"/>
<rect x="854" y="172" width="5" height="3" fill="#000"/>
<rect x="855" y="173" width="3" height="1" fill="#808080"/>
<rect x="862" y="170" width="1" height="18" fill="#000"/>
<rect x="860" y="174" width="5" height="3" fill="#000"/>
<rect x="861" y="175" width="3" height="1" fill="#808080"/>
<rect x="868" y="168" width="1" height="17" fill="#000"/>
<rect x="866" y="176" width="5" height="7" fill="#000"/>
<rect x="867" y="177" width="3" height="5" fill="#808080"/>
<rect x="874" y="177" width="1" height="12" fill="#000"/>
<rect x="872" y="182" width="5" height="6" fill="#000"/>
<rect x="873" y="183" width="3" height="4" fill="#808080"/>
<rect x="880" y="155" width="1" height="17" fill="#000"/>
<rect x="878" y="158" width="5" height="13" fill="#000"/>
<rect x="879" y="159" width="3" height="11" fill="#fff"/>
<rect x="886" y="153" width="1" height="12" fill="#000"/>
<rect x="884" y="158" width="5" height="6" fill="#000"/>
<rect x="885" y="159" width="3" height="4" fill="#808080"/>
<rect x="892" y="157" width="1" height="12" fill="#000"/>
<rect x="890" y="163" width="5" height="4" fill="#000"/>
<rect x="891" y="164" width="3" height="2" fill="#808080"/>
<rect x="898" y="163" width="1" height="12" fill="#000"/>
<rect x="896" y="165" width="5" height="9" fill="#000"/>
<rect x="897" y="166" width="3" height="7" fill="#808080"/>
<rect x="904" y="170" width="1" height="13" fill="#000"/>
<rect x="902" y="173" width="5" height="4" fill="#000"/>
<rect x="903" y="174" width="3" height="2" fill="#808080"/>
<rect x="910" y="171" width="1" height="14" fill="#000"/>
<rect x="908" y="176" width="5" height="8" fill="#000"/>
<rect x="909" y="177" width="3" height="6" fill="#808080"/>
<rect x="916" y="175" width="1" height="20" fill="#000"/>
<rect x="914" y="182" width="5" height="12" fill="#000"/>
<rect x="915" y="183" width="3" height="10" fill="#808080"/>
<rect x="922" y="188" width="1" height="11" fill="#000"/>
<rect x="920" y="193" width="5" height="6" fill="#000"/>
<rect x="921" y="194" width="3" height="4" fill="#808080"/>
<rect x="928" y="195" width="1" height="13" fill="#000"/>
<rect x="926" y="198" width="5" height="6" fill="#000"/>
<rect x="927" y="199" width="3" height="4" fill="#808080"/>
<rect x="934" y="201" width="1" height="15" fill="#000"/>
<rect x="932" y="203" width="5" height="9" fill="#000"/>
<rect x="933" y="204" width="3" height="7" fill="#808080"/>
<rect x="940" y="197" width="1" height="14" fill="#000"/>
<rect x="938" y="200" width="5" height="10" fill="#000"/>
<rect x="939" y="201" width="3" height="8" fill="#808080"/>
<rect x="946" y="202" width="1" height="9" fill="#000"/>
<rect x="944" y="208" width="5" height="2" fill="#000"/>
<rect x="952" y="207" width="1" height="18" fill="#000"/>
<rect x="950" y="208" width="5" height="13" fill="#000"/>
<rect x="951" y="209" width="3" height="11" fill="#808080"/>
<rect x="958" y="213" width="1" height="15" fill="#000"/>
<rect x="956" y="220" width="5" height="5" fill="#000"/>
<rect x="957" y="221" width="3" height="3" fill="#808080"/>
<rect x="964" y="166" width="1" height="46" fill="#000"/>
<rect x="962" y="181" width="5" height="27" fill="#000"/>
<rect x="963" y="182" width="3" height="25" fill="#fff"/>
<rect x="970" y="175" width="1" height="22" fill="#000"/>
<rect x="968" y="181" width="5" height="15" fill="#000"/>
<rect x="969" y="182" width="3" height="13" fill="#808080"/>
<rect x="976" y="171" width="1" height="28" fill="#000"/>
<rect x="974" y="171" width="5" height="25" fill="#000"/>
<rect x="975" y="172" width="3" height="23" fill="#fff"/>
<rect x="982" y="145" width="1" height="35" fill="#000"/>
<rect x="980" y="147" width="5" height="25" fill="#000"/>
<rect x="981" y="148" width="3" height="23" fill="#fff"/>
<rect x="988" y="62" width="1" height="77" fill="#000"/>
<rect x="986" y="77" width="5" height="53" fill="#000"/>
<rect x="987" y="78" width="3" height="51" fill="#fff"/>
<rect x="994" y="74" width="1" height="50" fill="#000"/>
<rect x="992" y="77" width="5" height="29" fill="#000"/>
<rect x="993" y="78" width="3" height="27" fill="#808080"/>
<rect x="1000" y="91" width="1" height="30" fill="#000"/>
<rect x="998" y="99" width="5" height="7" fill="#000"/>
<rect x="999" y="100" width="3" height="5" fill="#fff"/>
<rect x="1006" y="98" width="1" height="43" fill="#000"/>
<rect x="1004" y="99" width="5" height="42" fill="#000"/>
<rect x="1005" y="100" width="3" height="40" fill="#808080"/>
<rect x="1012" y="146" width="1" height="17" fill="#000"/>
<rect x="1010" y="150" width="5" height="10" fill="#000"/>
<rect x="1011" y="151" width="3" height="8" fill="#fff"/>
<rect x="1018" y="143" width="1" height="16" fill="#000"/>
<rect x="1016" y="150" width="5" height="5" fill="#000"/>
<rect x="1017" y="151" width="3" height="3" fill="#808080"/>
<rect x="1024" y="149" width="1" height="16" fill="#000"/>
<rect x="1022" y="154" width="5" height="11" fill="#000"/>
<rect x="1023" y="155" width="3" height="9" fill="#808080"/>
<rect x="1030" y="147" width="1" height="20" fill="#000"/>
<rect x="1028" y="151" width="5" height="14" fill="#000"/>
<rect x="1029" y="152" width="3" height="12" fill="#fff"/>
<rect x="1036" y="113" width="1" height="14" fill="#000"/>
<rect x="1034" y="118" width="5" height="8" fill="#000"/>
<rect x="1035" y="119" width="3" height="6" fill="#808080"/>
<rect x="1042" y="114" width="1" height="31" fill="#000"/>
<rect x="1040" y="125" width="5" height="8" fill="#000"/>
<rect x="1041" y="126" width="3" height="6" fill="#808080"/>
<rect x="1048" y="126" width="1" height="13" fill="#000"/>
<rect x="1046" y="132" width="5" height="2" fill="#000"/>
<rect x="1054" y="128" width="1" height="12" fill="#000"/>
<rect x="1052" y="133" width="5" height="2" fill="#000"/>
<rect x="1060" y="138" width="1" height="16" fill="#000"/>
<rect x="1058" y="138" width="5" height="2" fill="#000"/>
<rect x="1066" y="137" width="1" height="26" fill="#000"/>
<rect x="1064" y="138" width="5" height="25" fill="#000"/>
<rect x="1065" y="139" width="3" height="23" fill="#808080"/>
<rect x="1072" y="154" width="1" height="21" fill="#000"/>
<rect x="1070" y="162" width="5" height="4" fill="#000"/>
<rect x="1071" y="163" width="3" height="2" fill="#808080"/>
<rect x="1078" y="164" width="1" height="1" fill="#000"/>
<rect x="1076" y="165" width="5" height="2" fill="#000"/>
</g>
<g class="c">
<rect x="0" y="858" width="1" height="1" fill="#ace5dc"/>
<rect x="2" y="842" width="5" height="17" fill="#22ab94"/>
<rect x="8" y="823" width="5" height="36" fill="#22ab94"/>
<rect x="14" y="819" width="5" height="40" fill="#22ab94"/>
<rect x="20" y="812" width="5" height="47" fill="#22ab94"/>
<rect x="26" y="814" width="5" height="45" fill="#ace5dc"/>
<rect x="32" y="816" width="5" height="43" fill="#ace5dc"/>
<rect x="38" y="820" width="5" height="39" fill="#ace5dc"/>
<rect x="44" y="832" width="5" height="27" fill="#ace5dc"/>
<rect x="50" y="838" width="5" height="21" fill="#ace5dc"/>
<rect x="56" y="846" width="5" height="13" fill="#ace5dc"/>
<rect x="62" y="852" width="5" height="7" fill="#ace5dc"/>
<rect x="68" y="858" width="5" height="5" fill="#ff5252"/>
<rect x="74" y="858" width="5" height="15" fill="#ff5252"/>
<rect x="80" y="858" width="5" height="21" fill="#ff5252"/>
<rect x="86" y="858" width="5" height="21" fill="#fccbcd"/>
<rect x="92" y="858" width="5" height="26" fill="#ff5252"/>
<rect x="98" y="858" width="5" height="35" fill="#ff5252"/>
<rect x="104" y="858" width="5" height="38" fill="#ff5252"/>
<rect x="110" y="858" width="5" height="44" fill="#ff5252"/>
<rect x="116" y="858" width="5" height="47" fill="#ff5252"/>
<rect x="122" y="858" width="5" height="47" fill="#ff5252"/>
<rect x="128" y="858" width="5" height="47" fill="#ff5252"/>
<rect x="134" y="858" width="5" height="38" fill="#fccbcd"/>
<rect x="140" y="858" width="5" height="27" fill="#fccbcd"/>
<rect x="146" y="858" width="5" height="23" fill="#fccbcd"/>
<rect x="152" y="858" width="5" height="15" fill="#fccbcd"/>
<rect x="158" y="858" width="5" height="12" fill="#fccbcd"/>
<rect x="164" y="858" width="5" height="13" fill="#ff5252"/>
<rect x="170" y="858" width="5" height="8" fill="#fccbcd"/>
<rect x="176" y="858" width="5" height="6" fill="#fccbcd"/>
<rect x="182" y="858" width="5" height="4" fill="#fccbcd"/>
<rect x="188" y="857" width="5" height="2" fill="#22ab94"/>
<rect x="194" y="853" width="5" height="6" fill="#22ab94"/>
<rect x="200" y="855" width="5" height="4" fill="#ace5dc"/>
<rect x="206" y="855" width="5" height="4" fill="#ace5dc"/>
<rect x="212" y="851" width="5" height="8" fill="#22ab94"/>
<rect x="218" y="843" width="5" height="16" fill="#22ab94"/>
<rect x="224" y="842" width="5" height="17" fill="#22ab94"/>
<rect x="230" y="847" width="5" height="12" fill="#ace5dc"/>
<rect x="236" y="852" width="5" height="7" fill="#ace5dc"/>
<rect x="242" y="855" width="5" height="4" fill="#ace5dc"/>
<rect x="248" y="856" width="5" height="3" fill="#ace5dc"/>
<rect x="254" y="851" width="5" height="8" fill="#22ab94"/>
<rect x="260" y="846" width="5" height="13" fill="#22ab94"/>
<rect x="266" y="841" width="5" height="18" fill="#22ab94"/>
<rect x="272" y="839" width="5" height="20" fill="#22ab94"/>
<rect x="278" y="833" width="5" height="26" fill="#22ab94"/>
<rect x="284" y="832" width="5" height="27" fill="#22ab94"/>
<rect x="290" y="837" width="5" height="22" fill="#ace5dc"/>
<rect x="296" y="841" width="5" height="18" fill="#ace5dc"/>
<rect x="302" y="848" width="5" height="11" fill="#ace5dc"/>
<rect x="308" y="855" width="5" height="4" fill="#ace5dc"/>
<rect x="314" y="858" width="5" height="5" fill="#ff5252"/>
<rect x="320" y="858" width="5" height="11" fill="#ff5252"/>
<rect x="326" y="858" width="5" height="21" fill="#ff5252"/>
<rect x="332" y="858" width="5" height="25" fill="#ff5252"/>
<rect x="338" y="858" width="5" height="30" fill="#ff5252"/>
<rect x="344" y="858" width="5" height="31" fill="#ff5252"/>
<rect x="350" y="858" width="5" height="21" fill="#fccbcd"/>
<rect x="356" y="858" width="5" height="14" fill="#fccbcd"/>
<rect x="362" y="858" width="5" height="11" fill="#fccbcd"/>
<rect x="368" y="858" width="5" height="10" fill="#fccbcd"/>
<rect x="374" y="858" width="5" height="23" fill="#ff5252"/>
<rect x="380" y="858" width="5" height="40" fill="#ff5252"/>
<rect x="386" y="858" width="5" height="49" fill="#ff5252"/>
<rect x="392" y="858" width="5" height="41" fill="#fccbcd"/>
<rect x="398" y="858" width="5" height="34" fill="#fccbcd"/>
<rect x="404" y="858" width="5" height="22" fill="#fccbcd"/>
<rect x="410" y="858" width="5" height="14" fill="#fccbcd"/>
<rect x="416" y="858" width="5" height="11" fill="#fccbcd"/>
<rect x="422" y="858" width="5" height="5" fill="#fccbcd"/>
<rect x="428" y="857" width="5" height="2" fill="#22ab94"/>
<rect x="434" y="858" width="5" height="1" fill="#ace5dc"/>
<rect x="440" y="854" width="5" height="5" fill="#22ab94"/>
<rect x="446" y="857" width="5" height="2" fill="#ace5dc"/>
<rect x="452" y="858" width="5" height="1" fill="#ff5252"/>
<rect x="458" y="858" width="5" height="5" fill="#ff5252"/>
<rect x="464" y="857" width="5" height="2" fill="#22ab94"/>
<rect x="470" y="858" width="5" height="2" fill="#ff5252"/>
<rect x="476" y="858" width="5" height="4" fill="#ff5252"/>
<rect x="482" y="858" width="5" height="2" fill="#fccbcd"/>
<rect x="488" y="858" width="5" height="1" fill="#22ab94"/>
<rect x="494" y="858" width="5" height="3" fill="#ff5252"/>
<rect x="500" y="858" width="5" height="3" fill="#ff5252"/>
<rect x="506" y="858" width="5" height="4" fill="#ff5252"/>
<rect x="512" y="857" width="5" height="2" fill="#22ab94"/>
<rect x="518" y="855" width="5" height="4" fill="#22ab94"/>
<rect x="524" y="855" width="5" height="4" fill="#ace5dc"/>
<rect x="530" y="853" width="5" height="6" fill="#22ab94"/>
<rect x="536" y="852" width="5" height="7" fill="#22ab94"/>
<rect x="542" y="842" width="5" height="17" fill="#22ab94"/>
<rect x="548" y="841" width="5" height="18" fill="#22ab94"/>
<rect x="554" y="844" width="5" height="15" fill="#ace5dc"/>
<rect x="560" y="849" width="5" height="10" fill="#ace5dc"/>
<rect x="566" y="848" width="5" height="11" fill="#22ab94"/>
<rect x="572" y="854" width="5" height="5" fill="#ace5dc"/>
<rect x="578" y="858" width="5" height="6" fill="#ff5252"/>
<rect x="584" y="858" width="5" height="10" fill="#ff5252"/>
<rect x="590" y="858" width="5" height="9" fill="#fccbcd"/>
<rect x="596" y="858" width="5" height="9" fill="#fccbcd"/>
<rect x="602" y="858" width="5" height="10" fill="#ff5252"/>
<rect x="608" y="858" width="5" height="8" fill="#fccbcd"/>
<rect x="614" y="858" width="5" height="13" fill="#ff5252"/>
<rect x="620" y="858" width="5" height="17" fill="#ff5252"/>
<rect x="626" y="858" width="5" height="24" fill="#ff5252"/>
<rect x="632" y="858" width="5" height="23" fill="#fccbcd"/>
<rect x="638" y="858" width="5" height="21" fill="#fccbcd"/>
<rect x="644" y="858" width="5" height="18" fill="#fccbcd"/>
<rect x="650" y="858" width="5" height="12" fill="#fccbcd"/>
<rect x="656" y="858" width="5" height="10" fill="#fccbcd"/>
<rect x="662" y="858" width="5" height="11" fill="#ff5252"/>
<rect x="668" y="858" width="5" height="11" fill="#fccbcd"/>
<rect x="674" y="858" width="5" height="9" fill="#fccbcd"/>
<rect x="680" y="858" width="5" height="7" fill="#fccbcd"/>
<rect x="686" y="858" width="5" height="3" fill="#fccbcd"/>
<rect x="692" y="858" width="5" height="4" fill="#ff5252"/>
<rect x="698" y="858" width="5" height="8" fill="#ff5252"/>
<rect x="704" y="858" width="5" height="11" fill="#ff5252"/>
<rect x="710" y="858" width="5" height="16" fill="#ff5252"/>
<rect x="716" y="858" width="5" height="17" fill="#ff5252"/>
<rect x="722" y="858" width="5" height="12" fill="#fccbcd"/>
<rect x="728" y="858" width="5" height="9" fill="#fccbcd"/>
<rect x="734" y="858" width="5" height="4" fill="#fccbcd"/>
<rect x="740" y="856" width="5" height="3" fill="#22ab94"/>
<rect x="746" y="851" width="5" height="8" fill="#22ab94"/>
<rect x="752" y="848" width="5" height="11" fill="#22ab94"/>
<rect x="758" y="849" width="5" height="10" fill="#ace5dc"/>
<rect x="764" y="853" width="5" height="6" fill="#ace5dc"/>
<rect x="770" y="856" width="5" height="3" fill="#ace5dc"/>
<rect x="776" y="858" width="5" height="2" fill="#ff5252"/>
<rect x="782" y="857" width="5" height="2" fill="#22ab94"/>
<rect x="788" y="853" width="5" height="6" fill="#22ab94"/>
<rect x="794" y="851" width="5" height="8" fill="#22ab94"/>
<rect x="800" y="850" width="5" height="9" fill="#22ab94"/>
<rect x="806" y="847" width="5" height="12" fill="#22ab94"/>
<rect x="812" y="843" width="5" height="16" fill="#22ab94"/>
<rect x="818" y="842" width="5" height="17" fill="#22ab94"/>
<rect x="824" y="843" width="5" height="16" fill="#ace5dc"/>
<rect x="830" y="845" width="5" height="14" fill="#ace5dc"/>
<rect x="836" y="842" width="5" height="17" fill="#22ab94"/>
<rect x="842" y="839" width="5" height="20" fill="#22ab94"/>
<rect x="848" y="837" width="5" height="22" fill="#22ab94"/>
<rect x="854" y="837" width="5" height="22" fill="#22ab94"/>
<rect x="860" y="838" width="5" height="21" fill="#ace5dc"/>
<rect x="866" y="842" width="5" height="17" fill="#ace5dc"/>
<rect x="872" y="846" width="5" height="13" fill="#ace5dc"/>
<rect x="878" y="843" width="5" height="16" fill="#22ab94"/>
<rect x="884" y="844" width="5" height="15" fill="#ace5dc"/>
<rect x="890" y="846" width="5" height="13" fill="#ace5dc"/>
<rect x="896" y="849" width="5" height="10" fill="#ace5dc"/>
<rect x="902" y="853" width="5" height="6" fill="#ace5dc"/>
<rect x="908" y="858" width="5" height="1" fill="#ace5dc"/>
<rect x="914" y="858" width="5" height="6" fill="#ff5252"/>
<rect x="920" y="858" width="5" height="10" fill="#ff5252"/>
<rect x="926" y="858" width="5" height="14" fill="#ff5252"/>
<rect x="932" y="858" width="5" height="17" fill="#ff5252"/>
<rect x="938" y="858" width="5" height="18" fill="#ff5252"/>
<rect x="944" y="858" width="5" height="18" fill="#fccbcd"/>
<rect x="950" y="858" width="5" height="20" fill="#ff5252"/>
<rect x="956" y="858" width="5" height="21" fill="#ff5252"/>
<rect x="962" y="858" width="5" height="12" fill="#fccbcd"/>
<rect x="968" y="858" width="5" height="8" fill="#fccbcd"/>
<rect x="974" y="858" width="5" height="1" fill="#22ab94"/>
<rect x="980" y="848" width="5" height="11" fill="#22ab94"/>
<rect x="986" y="828" width="5" height="31" fill="#22ab94"/>
<rect x="992" y="823" width="5" height="36" fill="#22ab94"/>
<rect x="998" y="821" width="5" height="38" fill="#22ab94"/>
<rect x="1004" y="830" width="5" height="29" fill="#ace5dc"/>
<rect x="1010" y="840" width="5" height="19" fill="#ace5dc"/>
<rect x="1016" y="848" width="5" height="11" fill="#ace5dc"/>
<rect x="1022" y="856" width="5" height="3" fill="#ace5dc"/>
<rect x="1028" y="858" width="5" height="2" fill="#ff5252"/>
<rect x="1034" y="856" width="5" height="3" fill="#22ab94"/>
<rect x="1040" y="856" width="5" height="3" fill="#ace5dc"/>
<rect x="1046" y="857" width="5" height="2" fill="#ace5dc"/>
<rect x="1052" y="858" width="5" height="1" fill="#ace5dc"/>
<rect x="1058" y="858" width="5" height="3" fill="#ff5252"/>
<rect x="1064" y="858" width="5" height="9" fill="#ff5252"/>
<rect x="1070" y="858" width="5" height="14" fill="#ff5252"/>
<rect x="1076" y="858" width="5" height="17" fill="#ff5252"/>
</g>
<polyline class="ln" points="-2.0,752.0 4.0,735.16 10.0,707.97 16.0,693.91 22.0,675.94 28.0,667.34 34.0,659.53 40.0,653.28 46.0,659.53 52.0,660.78 58.0,665.78 64.0,670.47 70.0,680.62 76.0,693.91 82.0,705.62 88.0,711.09 94.0,722.03 100.0,737.66 106.0,750.16 112.0,766.88 118.0,782.50 124.0,795.00 130.0,806.72 136.0,805.62 142.0,802.03 148.0,804.06 154.0,798.91 160.0,798.59 166.0,802.50 172.0,799.38 178.0,798.91 184.0,797.34 190.0,792.97 196.0,787.81 202.0,789.22 208.0,788.12 214.0,782.66 220.0,770.94 226.0,765.78 232.0,768.59 238.0,771.72 244.0,774.38 250.0,774.53 256.0,767.50 262.0,758.91 268.0,750.62 274.0,743.59 280.0,731.88 286.0,724.38 292.0,723.75 298.0,723.28 304.0,729.53 310.0,735.47 316.0,742.81 322.0,751.41 328.0,767.03 334.0,777.19 340.0,788.91 346.0,797.03 352.0,792.81 358.0,788.91 364.0,788.12 370.0,789.61 376.0,807.97 382.0,832.97 388.0,856.41 394.0,857.50 400.0,859.84 406.0,853.59 412.0,848.91 418.0,847.34 424.0,843.12 430.0,837.66 436.0,837.97 442.0,834.06 448.0,836.41 454.0,837.50 460.0,842.66 466.0,837.66 472.0,839.84 478.0,842.66 484.0,841.09 490.0,839.53 496.0,842.97 502.0,843.44 508.0,845.47 514.0,840.31 520.0,838.28 526.0,837.97 532.0,834.38 538.0,831.72 544.0,818.44 550.0,812.73 556.0,812.03 562.0,815.31 568.0,811.88 574.0,816.88 580.0,827.03 586.0,832.97 592.0,834.84 598.0,837.19 604.0,839.53 610.0,839.53 616.0,848.12 622.0,857.50 628.0,867.66 634.0,873.12 640.0,877.81 646.0,877.34 652.0,874.22 658.0,874.22 664.0,878.28 670.0,880.47 676.0,881.41 682.0,880.94 688.0,878.28 694.0,880.62 700.0,885.62 706.0,891.56 712.0,898.91 718.0,904.38 724.0,903.59 730.0,900.94 736.0,896.56 742.0,890.70 748.0,883.67 754.0,879.06 760.0,878.12 766.0,881.72 772.0,884.84 778.0,887.50 784.0,884.84 790.0,879.38 796.0,875.47 802.0,872.34 808.0,867.66 814.0,859.06 820.0,854.38 826.0,852.03 832.0,850.78 838.0,843.44 844.0,834.06 850.0,826.25 856.0,821.56 862.0,819.53 868.0,819.22 874.0,820.47 880.0,813.75 886.0,810.94 892.0,809.84 898.0,811.41 904.0,814.38 910.0,818.83 916.0,825.70 922.0,832.50 928.0,839.53 934.0,846.56 940.0,851.72 946.0,856.41 952.0,862.97 958.0,868.44 964.0,861.41 970.0,859.06 976.0,850.47 982.0,838.75 988.0,812.19 994.0,798.91 1000.0,787.97 1006.0,790.31 1012.0,795.00 1018.0,801.25 1024.0,809.06 1030.0,812.19 1036.0,808.28 1042.0,807.50 1048.0,808.28 1054.0,809.06 1060.0,812.19 1066.0,822.34 1072.0,829.38 1078.0,835.62" stroke="#2196f3" stroke-width="1"/>
<polyline class="ln" points="-2.0,755.8 4.0,751.72 10.0,743.91 16.0,733.75 22.0,722.03 28.0,711.09 34.0,700.16 40.0,690.78 46.0,684.53 52.0,679.84 58.0,677.19 64.0,675.94 70.0,677.19 76.0,681.09 82.0,685.78 88.0,690.31 94.0,697.03 100.0,706.09 106.0,716.56 112.0,727.50 118.0,739.22 124.0,750.94 130.0,761.88 136.0,770.47 142.0,776.48 148.0,781.48 154.0,784.84 160.0,787.81 166.0,790.39 172.0,792.34 178.0,793.75 184.0,794.22 190.0,794.06 196.0,792.97 202.0,792.03 208.0,791.25 214.0,789.69 220.0,786.09 226.0,781.88 232.0,779.22 238.0,777.66 244.0,776.88 250.0,776.41 256.0,774.53 262.0,771.41 268.0,767.03 274.0,761.56 280.0,755.31 286.0,749.06 292.0,744.06 298.0,740.47 304.0,738.44 310.0,737.81 316.0,738.91 322.0,741.25 328.0,746.41 334.0,752.50 340.0,760.00 346.0,767.34 352.0,772.50 358.0,775.62 364.0,778.28 370.0,780.62 376.0,786.25 382.0,796.88 388.0,809.53 394.0,820.78 400.0,827.81 406.0,832.50 412.0,835.62 418.0,837.66 424.0,838.75 430.0,838.75 436.0,838.44 442.0,837.66 448.0,837.50 454.0,837.66 460.0,838.44 466.0,838.28 472.0,838.75 478.0,839.53 484.0,839.84 490.0,839.84 496.0,840.62 502.0,841.41 508.0,842.19 514.0,841.88 520.0,841.09 526.0,840.31 532.0,839.22 538.0,837.66 544.0,834.06 550.0,829.84 556.0,825.94 562.0,823.44 568.0,821.17 574.0,820.78 580.0,822.34 586.0,824.69 592.0,827.03 598.0,829.06 604.0,830.94 610.0,832.50 616.0,835.62 622.0,840.31 628.0,846.09 634.0,852.03 640.0,857.50 646.0,861.41 652.0,863.75 658.0,866.09 664.0,868.44 670.0,870.78 676.0,872.81 682.0,874.22 688.0,875.00 694.0,876.25 700.0,878.12 706.0,880.94 712.0,884.53 718.0,888.44 724.0,891.56 730.0,893.44 736.0,894.06 742.0,893.52 748.0,891.48 754.0,889.53 760.0,887.19 766.0,886.09 772.0,885.94 778.0,886.09 784.0,885.62 790.0,884.53 796.0,882.81 802.0,880.62 808.0,878.12 814.0,874.38 820.0,870.47 826.0,866.88 832.0,863.44 838.0,859.38 844.0,854.38 850.0,848.59 856.0,843.44 862.0,838.44 868.0,834.53 874.0,831.41 880.0,827.81 886.0,824.38 892.0,821.56 898.0,820.00 904.0,819.06 910.0,819.06 916.0,820.23 922.0,822.73 928.0,826.48 934.0,831.72 940.0,836.41 946.0,841.41 952.0,846.09 958.0,849.69 964.0,851.72 970.0,852.50 976.0,852.03 982.0,848.12 988.0,840.31 994.0,831.41 1000.0,823.12 1006.0,816.88 1012.0,812.97 1018.0,810.94 1024.0,810.94 1030.0,811.09 1036.0,810.31 1042.0,809.84 1048.0,809.53 1054.0,809.69 1060.0,810.31 1066.0,812.66 1072.0,816.09 1078.0,820.00" stroke="#fb3d7a" stroke-width="2.1"/>
<line x1="1204.5" y1="31" x2="1204.5" y2="932" stroke="#2a2e39" stroke-opacity=".06" stroke-width="1" class="c"/>
<text x="1224.6" y="592.4" textLength="40" lengthAdjust="spacingAndGlyphs">1.05000</text>
<text x="1224.6" y="559.1" textLength="40" lengthAdjust="spacingAndGlyphs">1.06000</text>
<text x="1224.6" y="525.9" textLength="40" lengthAdjust="spacingAndGlyphs">1.07000</text>
<text x="1224.6" y="492.7" textLength="40" lengthAdjust="spacingAndGlyphs">1.08000</text>
<text x="1224.6" y="459.5" textLength="40" lengthAdjust="spacingAndGlyphs">1.09000</text>
<text x="1224.6" y="426.3" textLength="40" lengthAdjust="spacingAndGlyphs">1.10000</text>
<text x="1224.6" y="393.0" textLength="40" lengthAdjust="spacingAndGlyphs">1.11000</text>
<text x="1224.6" y="359.8" textLength="40" lengthAdjust="spacingAndGlyphs">1.12000</text>
<text x="1224.6" y="326.6" textLength="40" lengthAdjust="spacingAndGlyphs">1.13000</text>
<text x="1224.6" y="293.4" textLength="40" lengthAdjust="spacingAndGlyphs">1.14000</text>
<text x="1224.6" y="260.2" textLength="40" lengthAdjust="spacingAndGlyphs">1.15000</text>
<text x="1224.6" y="226.9" textLength="40" lengthAdjust="spacingAndGlyphs">1.16000</text>
<text x="1224.6" y="193.7" textLength="40" lengthAdjust="spacingAndGlyphs">1.17000</text>
<text x="1224.6" y="160.5" textLength="40" lengthAdjust="spacingAndGlyphs">1.18000</text>
<text x="1224.6" y="127.3" textLength="40" lengthAdjust="spacingAndGlyphs">1.19000</text>
<text x="1224.6" y="94.1" textLength="40" lengthAdjust="spacingAndGlyphs">1.20000</text>
<text x="1224.6" y="60.8" textLength="40" lengthAdjust="spacingAndGlyphs">1.21000</text>
<text x="1224.6" y="645.2" textLength="40" lengthAdjust="spacingAndGlyphs">0.02000</text>
<text x="1224.6" y="699.2" textLength="40" lengthAdjust="spacingAndGlyphs">0.01500</text>
<text x="1224.6" y="753.2" textLength="40" lengthAdjust="spacingAndGlyphs">0.01000</text>
<text x="1224.6" y="808.2" textLength="40" lengthAdjust="spacingAndGlyphs">0.00500</text>
<text x="1224.6" y="862.2" textLength="46" lengthAdjust="spacingAndGlyphs">−0.00000</text>
<text x="1224.6" y="916.2" textLength="46" lengthAdjust="spacingAndGlyphs">−0.00500</text>
<path d="M1214,81H1268a2,2 0 0 1 2,2V96a2,2 0 0 1 -2,2H1214Z" fill="#2196f3"/>
<text x="1224.6" y="93.8" textLength="40" lengthAdjust="spacingAndGlyphs" fill="#fff" style="fill:#fff">1.20020</text>
<path d="M1214,122H1268a2,2 0 0 1 2,2V137a2,2 0 0 1 -2,2H1214Z" fill="#33a3e3"/>
<text x="1224.6" y="134.8" textLength="40" lengthAdjust="spacingAndGlyphs" fill="#fff" style="fill:#fff">1.18349</text>
<path d="M1214,139H1268a2,2 0 0 1 2,2V154a2,2 0 0 1 -2,2H1214Z" fill="#f9b633"/>
<text x="1224.6" y="151.8" textLength="40" lengthAdjust="spacingAndGlyphs" fill="#000" style="fill:#000">1.18275</text>
<path d="M1214,158H1268a2,2 0 0 1 2,2V173a2,2 0 0 1 -2,2H1214Z" fill="#808080"/>
<text x="1224.6" y="170.8" textLength="40" lengthAdjust="spacingAndGlyphs" fill="#fff" style="fill:#fff">1.17705</text>
<path d="M1214,175H1268a2,2 0 0 1 2,2V190a2,2 0 0 1 -2,2H1214Z" fill="#e17a04"/>
<text x="1224.6" y="187.8" textLength="40" lengthAdjust="spacingAndGlyphs" fill="#fff" style="fill:#fff">1.17408</text>
<path d="M1214,192H1268a2,2 0 0 1 2,2V207a2,2 0 0 1 -2,2H1214Z" fill="#2196f3"/>
<text x="1224.6" y="204.8" textLength="40" lengthAdjust="spacingAndGlyphs" fill="#fff" style="fill:#fff">1.16678</text>
<path d="M1214,811H1268a2,2 0 0 1 2,2V826a2,2 0 0 1 -2,2H1214Z" fill="#fb3d7a"/>
<text x="1224.6" y="823.8" textLength="40" lengthAdjust="spacingAndGlyphs" fill="#fff" style="fill:#fff">0.00352</text>
<path d="M1214,828H1268a2,2 0 0 1 2,2V843a2,2 0 0 1 -2,2H1214Z" fill="#2196f3"/>
<text x="1224.6" y="840.8" textLength="40" lengthAdjust="spacingAndGlyphs" fill="#fff" style="fill:#fff">0.00203</text>
<path d="M1214,866H1274a2,2 0 0 1 2,2V881a2,2 0 0 1 -2,2H1214Z" fill="#ff5252"/>
<text x="1224.6" y="878.8" textLength="46" lengthAdjust="spacingAndGlyphs" fill="#fff" style="fill:#fff">−0.00148</text>
<g fill="#fff" fill-opacity="0.92"><rect x="6" y="34" width="216" height="14"/><rect x="6" y="58" width="186" height="14"/><rect x="6" y="82" width="186" height="14"/><rect x="6" y="632" width="292" height="14"/></g>
<text x="9.6" y="20" textLength="151.5" lengthAdjust="spacingAndGlyphs" font-weight="bold" font-size="13" style="font-size:13px">EURUSD 1D - 1uptick.com</text>
<text x="9.5" y="45" textLength="14" lengthAdjust="spacingAndGlyphs">BB</text>
<text x="28" y="45" textLength="24.5" lengthAdjust="spacingAndGlyphs" fill="#50535e" style="fill:#50535e">20 2</text>
<text x="68" y="45" textLength="45.5" lengthAdjust="spacingAndGlyphs" fill="#2196f3" style="fill:#2196f3">1.18349</text>
<text x="121" y="45" textLength="45.5" lengthAdjust="spacingAndGlyphs" fill="#2196f3" style="fill:#2196f3">1.20020</text>
<text x="174" y="45" textLength="45.5" lengthAdjust="spacingAndGlyphs" fill="#2196f3" style="fill:#2196f3">1.16678</text>
<text x="9" y="69" textLength="16.3" lengthAdjust="spacingAndGlyphs">MA</text>
<text x="30.5" y="69" textLength="94" lengthAdjust="spacingAndGlyphs" fill="#50535e" style="fill:#50535e">10 close 0 SMA 9</text>
<text x="140" y="69" textLength="45.5" lengthAdjust="spacingAndGlyphs" fill="#f7b239" style="fill:#f7b239">1.18275</text>
<text x="9" y="93" textLength="16.3" lengthAdjust="spacingAndGlyphs">MA</text>
<text x="30.5" y="93" textLength="94" lengthAdjust="spacingAndGlyphs" fill="#50535e" style="fill:#50535e">50 close 0 SMA 9</text>
<text x="140" y="93" textLength="45.5" lengthAdjust="spacingAndGlyphs" fill="#e07b0c" style="fill:#e07b0c">1.17408</text>
<rect x="9.5" y="102.5" width="28" height="20" rx="3" fill="#fff" stroke="#d4d7e0" stroke-width="1"/>
<path d="M19.5,114.4L23.5,110.9L27.5,114.4" fill="none" stroke="#131722" stroke-width="1.4"/>
<text x="9" y="643" textLength="32.5" lengthAdjust="spacingAndGlyphs">MACD</text>
<text x="47" y="643" textLength="74.5" lengthAdjust="spacingAndGlyphs" fill="#50535e" style="fill:#50535e">12 26 close 9</text>
<text x="137" y="643" textLength="52.5" lengthAdjust="spacingAndGlyphs" fill="#ff5252" style="fill:#ff5252">−0.00148</text>
<text x="196" y="643" textLength="46" lengthAdjust="spacingAndGlyphs" fill="#2196f3" style="fill:#2196f3">0.00203</text>
<text x="249.5" y="643" textLength="46" lengthAdjust="spacingAndGlyphs" fill="#fb3d7a" style="fill:#fb3d7a">0.00352</text>
<text x="82.5" y="950" text-anchor="middle">May</text>
<text x="184.5" y="950" text-anchor="middle">Jun</text>
<text x="286.5" y="950" text-anchor="middle">Jul</text>
<text x="400.5" y="950" text-anchor="middle">Aug</text>
<text x="496.5" y="950" text-anchor="middle">Sep</text>
<text x="604.5" y="950" text-anchor="middle">Oct</text>
<text x="712.5" y="950" text-anchor="middle">Nov</text>
<text x="808.5" y="950" text-anchor="middle">Dec</text>
<text x="910.5" y="950" font-weight="bold" text-anchor="middle">2026</text>
<text x="1012.5" y="950" text-anchor="middle">Feb</text>
<text x="1120.5" y="950" text-anchor="middle">Mar</text>
<text x="1204.5" y="950" text-anchor="middle">20</text>
<g stroke="#131722" stroke-width="1.2" fill="none"><circle cx="1247.5" cy="946.5" r="5"/>
<line x1="1253.10" y1="946.50" x2="1255.10" y2="946.50"/>
<line x1="1251.46" y1="950.46" x2="1252.87" y2="951.87"/>
<line x1="1247.50" y1="952.10" x2="1247.50" y2="954.10"/>
<line x1="1243.54" y1="950.46" x2="1242.13" y2="951.87"/>
<line x1="1241.90" y1="946.50" x2="1239.90" y2="946.50"/>
<line x1="1243.54" y1="942.54" x2="1242.13" y2="941.13"/>
<line x1="1247.50" y1="940.90" x2="1247.50" y2="938.90"/>
<line x1="1251.46" y1="942.54" x2="1252.87" y2="941.13"/>
</g>
<circle cx="23.5" cy="910" r="16.5" fill="#fff" stroke="#e7e8eb" stroke-width="1"/>
<g fill="#131722"><path d="M12.9,905.2h9v10.7h-3.9v-6.9h-5.1z"/><circle cx="24.9" cy="906.9" r="1.9"/><path d="M29.4,905.2h5.1l-4.5,10.7h-4.9z"/></g>
</svg></body></html>
